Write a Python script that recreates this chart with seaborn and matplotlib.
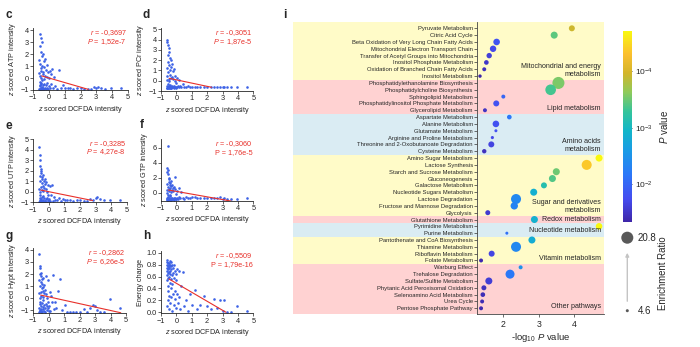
import numpy as np
import pandas as pd
import matplotlib
matplotlib.use("Agg")
import matplotlib.pyplot as plt
import seaborn as sns
from matplotlib.colors import LinearSegmentedColormap, Normalize
from matplotlib.cm import ScalarMappable
from matplotlib.patches import Rectangle
from matplotlib.transforms import blended_transform_factory

# ---------------- data: panels c-h ----------------
dcfda = [-0.63, -0.62, -0.61, -0.60, -0.60, -0.59, -0.58, -0.58, -0.57, -0.56,
         -0.56, -0.55, -0.54, -0.54, -0.53, -0.52, -0.51, -0.50, -0.50, -0.49,
         -0.48, -0.47, -0.46, -0.45, -0.44, -0.43, -0.42, -0.41, -0.40, -0.39,
         -0.38, -0.37, -0.36, -0.35, -0.34, -0.33, -0.31, -0.30, -0.28, -0.26,
         -0.24, -0.22, -0.20, -0.18, -0.16, -0.14, -0.12, -0.10, -0.08, -0.05,
         -0.03, -0.01,
         0.03, 0.07, 0.10, 0.15, 0.20, 0.26, 0.32, 0.40, 0.50, 0.62, 0.75, 0.88, 1.02,
         1.18, 1.35, 1.55, 1.78, 2.0, 2.25, 2.45, 2.65, 2.85, 3.0, 3.1, 3.3, 3.55, 3.95, 4.6]

atp = [-0.95, 0.4, 1.5, -0.6, 3.7, -0.9, 0.2, 2.7, -0.3, -0.98,
       1.2, -0.7, 0.8, 3.3, -0.5, -0.95, 0.0, 2.2, -0.85, 0.6,
       -0.4, 1.8, -0.9, -0.2, 1.0, 3.0, -0.75, 0.3, -0.95, 2.0,
       -0.6, 0.5, -0.85, 1.4, -0.1, -0.92, 0.9, -0.5, 1.6, -0.8,
       0.2, -0.95, 0.7, -0.6, 0.1, -0.85, 1.1, -0.4, 0.5, -0.9,
       0.0, -0.7,
       -0.8, 0.6, -0.5, 0.3, 0.75, -0.85, 0.1, -0.7, -0.9, 0.7, -0.85, -0.6, -0.8,
       -0.85, -0.8, -0.88, -0.85, -0.8, -0.9, -0.92, -0.95, -0.75, -0.82, -0.72, -0.85, -0.9, -0.85, -0.85]

pcr = [-0.7, 0.5, 4.0, -0.5, 1.2, -0.75, 3.8, 0.1, -0.6, 2.5,
       -0.3, 3.5, -0.7, 0.8, 1.8, -0.65, 0.2, 3.2, -0.55, 2.8,
       -0.7, 0.0, 1.5, -0.6, 2.2, -0.4, 0.6, -0.72, 1.0, -0.5,
       2.0, -0.68, 0.3, -0.6, 1.3, -0.7, 0.4, -0.5, 1.6, -0.65,
       0.9, -0.6, 0.2, -0.7, 1.1, -0.55, 0.0, -0.6, 0.5, -0.65,
       -0.2, -0.7,
       -0.6, 0.3, -0.5, -0.65, 0.1, -0.55, -0.6, -0.3, -0.62, -0.6, -0.55, -0.65, -0.6,
       -0.6, -0.62, -0.58, -0.65, -0.6, -0.62, -0.6, -0.58, -0.62, -0.6, -0.6, -0.63, -0.6, -0.6, -0.62]

utp = [-0.95, 0.3, 4.3, -0.8, 1.5, -0.98, 3.5, 0.0, -0.6, 2.5,
       -0.9, 3.0, -0.3, 1.0, 2.0, -0.95, 0.5, 1.8, -0.7, 2.2,
       -0.9, 0.2, 1.2, -0.85, 0.8, -0.5, 1.4, -0.97, 0.6, -0.4,
       1.6, -0.9, 0.1, -0.75, 1.0, -0.95, 0.4, -0.6, 1.2, -0.85,
       0.7, -0.9, 0.3, -0.7, 0.9, -0.95, 0.0, -0.6, 0.65, -0.8,
       -0.3, -0.9,
       -0.7, 0.6, -0.85, -0.3, 0.65, -0.9, -0.5, -0.8, -0.75, -0.6, -0.85, -0.7, -0.8,
       -0.75, -0.8, -0.85, -0.8, -0.82, -0.85, -0.88, -0.7, -0.8, -0.55, -0.45, -0.7, -0.8, -0.82, -0.78]

gtp = [-0.9, 0.4, 3.3, -0.7, 1.2, -0.85, 2.8, 0.0, -0.5, 3.0,
       -0.8, 2.5, -0.3, 0.8, 6.2, -0.9, 0.5, 2.0, -0.6, 1.8,
       -0.85, 0.2, 1.5, -0.8, 1.0, -0.4, 1.3, -0.9, 0.6, -0.3,
       1.6, -0.85, 0.1, -0.7, 0.9, -0.9, 0.4, -0.6, 1.1, -0.8,
       0.7, -0.85, 0.2, -0.7, 0.8, -0.9, 2.1, -0.6, 0.5, -0.75,
       -0.2, -0.85,
       -0.6, 0.3, -0.8, 0.6, -0.5, -0.7, 0.1, -0.6, -0.75, -0.55, -0.7, -0.6, -0.5,
       -0.55, -0.6, -0.6, -0.65, -0.7, -0.7, -0.68, -0.6, -0.5, -0.75, -0.7, -0.85, -0.75, -0.8, -0.7]

hypt = [-1.2, 0.4, 3.7, -0.8, 1.5, -1.1, 2.7, 0.0, -0.5, 2.5,
        -1.0, 2.0, -0.3, 1.0, 1.8, -1.15, 0.5, 2.1, -0.7, 1.3,
        -0.9, 0.2, 1.6, -1.1, 0.8, -0.4, 1.2, -1.2, 0.6, -0.2,
        1.7, -0.95, 0.1, -0.75, 0.9, -1.05, 0.4, -0.6, 1.1, -0.85,
        0.7, -1.2, 0.3, -0.5, 1.8, -1.0, 0.0, -0.65, 1.5, -0.8,
        -0.3, -1.1,
        -0.7, 0.5, -1.1, 0.2, -0.3, 1.9, -0.9, -0.3, -0.8, 0.6, 1.55, -1.0, -0.6,
        -1.2, -1.15, -1.2, -1.2, -1.15, -0.9, -1.2, -0.8, -0.6, -0.7, -1.0, -1.15, -1.2, -0.1, -0.8]

energy = [0.75, 0.62, 0.85, 0.55, 0.80, 0.10, 0.70, 0.88, 0.45, 0.78,
          0.66, 0.20, 0.83, 0.58, 0.72, 0.35, 0.80, 0.68, 0.05, 0.76,
          0.60, 0.82, 0.28, 0.74, 0.50, 0.86, 0.64, 0.15, 0.79, 0.70,
          0.40, 0.77, 0.56, 0.84, 0.25, 0.72, 0.62, 0.02, 0.80, 0.48,
          0.74, 0.30, 0.66, 0.12, 0.58, 0.80, 0.22, 0.70, 0.35, 0.64,
          0.08, 0.55,
          0.30, 0.72, 0.15, 0.70, 0.25, 0.05, 0.45, 0.68, 0.10, 0.20, 0.02, 0.30, 0.12,
          0.38, 0.05, 0.12, 0.27, 0.10, 0.05, 0.22, 0.08, 0.20, 0.02, 0.20, 0.0, 0.0, 0.10, 0.03]

panel_letters = ["c", "d", "e", "f", "g", "h"]
panel_ylabels = ["$z$ scored ATP intensity", "$z$ scored PCr intensity",
                 "$z$ scored UTP intensity", "$z$ scored GTP intensity",
                 "$z$ scored Hypt intensity", "Energy charge"]
r_values = [-0.3697, -0.3051, -0.3285, -0.3060, -0.2862, -0.5509]
p_labels = ["1,52e-7", "1,87e-5", "4,27e-8", "1,76e-5", "6,26e-5", "1,79e-16"]
fit_slope = [-0.38, -0.316, -0.30, -0.36, -0.284, -0.151]
fit_intercept = [0.0, 0.085, 0.01, 0.21, 0.10, 0.487]
fit_x_start = [-0.47, -0.46, -0.53, -0.52, -0.52, -0.48]
fit_x_end = [2.5, 2.29, 2.81, 3.55, 4.66, 3.22]
y_ticks = [[-1, 0, 1, 2, 3, 4], [-1, 0, 1, 2, 3, 4, 5], [-1, 0, 1, 2, 3, 4, 5],
           [0, 2, 4, 6], [-1, 0, 1, 2, 3, 4], [0.0, 0.2, 0.4, 0.6, 0.8, 1.0]]
x_ticks = [-1, 0, 1, 2, 3, 4, 5]

# ---------------- data: panel i ----------------
pathways = [
    "Pyruvate Metabolism", "Citric Acid Cycle",
    "Beta Oxidation of Very Long Chain Fatty Acids", "Mitochondrial Electron Transport Chain",
    "Transfer of Acetyl Groups into Mitochondria", "Inositol Phosphate Metabolism",
    "Oxidation of Branched Chain Fatty Acids", "Inositol Metabolism",
    "Phosphatidylethanolamine Biosynthesis", "Phosphatidylcholine Biosynthesis",
    "Sphingolipid Metabolism", "Phosphatidylinositol Phosphate Metabolism", "Glycerolipid Metabolism",
    "Aspartate Metabolism", "Alanine Metabolism", "Glutamate Metabolism",
    "Arginine and Proline Metabolism", "Threonine and 2-Oxobutanoate Degradation", "Cysteine Metabolism",
    "Amino Sugar Metabolism", "Lactose Synthesis", "Starch and Sucrose Metabolism", "Gluconeogenesis",
    "Galactose Metabolism", "Nucleotide Sugars Metabolism", "Lactose Degradation",
    "Fructose and Mannose Degradation", "Glycolysis",
    "Glutathione Metabolism",
    "Pyrimidine Metabolism", "Purine Metabolism",
    "Pantothenate and CoA Biosynthesis", "Thiamine Metabolism", "Riboflavin Metabolism", "Folate Metabolism",
    "Warburg Effect", "Trehalose Degradation", "Sulfate/Sulfite Metabolism",
    "Phytanic Acid Peroxisomal Oxidation", "Selenoamino Acid Metabolism", "Urea Cycle",
    "Pentose Phosphate Pathway"]
neg_log10_p = [3.94, 3.44, 1.81, 1.71, 1.60, 1.52, 1.46, 1.34,
               3.56, 3.34, 2.00, 1.80, 1.48,
               2.17, 1.79, 1.79, 1.69, 1.66, 1.46,
               4.71, 4.36, 3.50, 3.39, 3.15, 2.86, 2.36, 2.31, 1.56,
               2.88,
               4.71, 2.10,
               2.81, 2.36, 1.67, 1.37,
               2.49, 2.19, 1.59, 1.45, 1.42, 1.40, 1.37]
enrichment_ratio = [7.8, 9.4, 8.7, 8.4, 7.0, 6.1, 5.4, 4.9,
                    20.8, 17.0, 5.4, 7.8, 5.4,
                    6.1, 8.7, 4.6, 4.7, 7.8, 5.8,
                    9.4, 15.5, 9.4, 9.4, 7.8, 9.4, 15.5, 10.0, 6.5,
                    9.4,
                    8.7, 4.6,
                    9.4, 15.5, 7.8, 5.4,
                    5.4, 13.2, 9.4, 6.5, 6.1, 5.4, 5.4]
group_names = ["Mitochondrial and energy\nmetabolism", "Lipid metabolism", "Amino acids\nmetabolism",
               "Sugar and derivatives\nmetabolism", "Redox metabolism", "Nucleotide metabolism",
               "Vitamin metabolism", "Other pathways"]
group_sizes = [8, 5, 6, 9, 1, 2, 4, 7]
p_range = (1.33, 4.71)          # -log10 P limits of colour scale
ratio_range = (4.6, 20.8)       # enrichment ratio limits
cbar_ticks = [2, 3, 4]
cbar_ticklabels = ["$10^{-2}$", "$10^{-3}$", "$10^{-4}$"]

# ---------------- style ----------------
sns.set_style("ticks")
plt.rcParams["font.family"] = ["Liberation Sans", "DejaVu Sans"]
plt.rcParams["mathtext.fontset"] = "custom"
plt.rcParams["mathtext.rm"] = "Liberation Sans"
plt.rcParams["mathtext.it"] = "Liberation Sans:italic"
plt.rcParams["mathtext.bf"] = "Liberation Sans:bold"
plt.rcParams["axes.linewidth"] = 0.6

W, H = 700, 347
fig = plt.figure(figsize=(7.0, 3.47), dpi=100)


def px(l, t, r, b):
    return [l / W, 1 - b / H, (r - l) / W, (b - t) / H]


point_color = "#3d62e6"
line_color = "#e8302a"
axes_boxes = [(33.3, 28.3, 127.7, 90), (161, 28.3, 253.3, 91),
              (33.3, 138.5, 126.7, 202.3), (161, 139.3, 253.3, 200.7),
              (33.3, 248.3, 126, 312.7), (161, 251, 253.3, 313.3)]
y_limits = [(-1, 4.15), (-1, 5.1), (-1, 5.08), (-1.02, 7.1), (-1.22, 4.14), (-0.017, 1.03)]
letter_pos = [(6, 15), (142.7, 15), (6, 126), (140, 125), (6, 236), (142.7, 236)]
series = [atp, pcr, utp, gtp, hypt, energy]

for k in range(6):
    ax = fig.add_axes(px(*axes_boxes[k]))
    df = pd.DataFrame({"x": dcfda, "y": series[k]})
    sns.scatterplot(data=df, x="x", y="y", ax=ax, s=3.5, color=point_color,
                    linewidth=0, legend=False, zorder=2)
    xs = np.array([fit_x_start[k], fit_x_end[k]])
    sns.lineplot(x=xs, y=fit_intercept[k] + fit_slope[k] * xs, ax=ax,
                 color=line_color, lw=0.8, zorder=3)
    ax.set_xlim(-1, 5)
    ax.set_ylim(*y_limits[k])
    ax.set_xticks(x_ticks)
    ax.set_yticks(y_ticks[k])
    if k == 5:
        ax.set_yticklabels([f"{v:.1f}" for v in y_ticks[k]])
    ax.tick_params(labelsize=5.3, length=2, width=0.5, pad=1.2)
    sns.despine(ax=ax)
    ax.set_xlabel("$z$ scored DCFDA intensity", fontsize=5.2, labelpad=1.5)
    ax.set_ylabel(panel_ylabels[k], fontsize=5.2, labelpad=1.5)
    rtxt = f"{r_values[k]:.4f}".replace(".", ",")
    ax.text(0.99, 0.92, "$r$ = " + rtxt, transform=ax.transAxes, ha="right", va="center",
            fontsize=5.2, color=line_color)
    ptxt = ("P = " if k in (3, 5) else "$P$ = ") + p_labels[k]
    ax.text(0.99, 0.78, ptxt, transform=ax.transAxes, ha="right", va="center",
            fontsize=5.2, color=line_color)
    fig.text(letter_pos[k][0] / W, 1 - letter_pos[k][1] / H, panel_letters[k],
             fontsize=8.5, fontweight="bold", ha="left", va="center")

# ---------------- panel i ----------------
cmap = LinearSegmentedColormap.from_list("parula_like", [
    (0.00, "#3e26a8"), (0.12, "#454cf0"), (0.25, "#2b78f8"), (0.37, "#1a9ae6"),
    (0.48, "#12b6c8"), (0.58, "#35c49a"), (0.68, "#8fca5a"), (0.78, "#d2b52a"),
    (0.88, "#fbbf2f"), (1.00, "#f9f80f")])

axi = fig.add_axes(px(477, 22.3, 604, 314.3))
dfi = pd.DataFrame({"pathway": pathways, "nlp": neg_log10_p, "ratio": enrichment_ratio,
                    "row": np.arange(len(pathways))})
sns.scatterplot(data=dfi, x="nlp", y="row", hue="nlp", palette=cmap, hue_norm=p_range,
                size="ratio", sizes=(4.7, 75), size_norm=ratio_range, linewidth=0,
                legend=False, ax=axi, zorder=3)
n = len(pathways)
axi.set_ylim(n - 1 + 0.88, -0.88)
axi.set_xlim(1.255, 4.85)
axi.set_yticks(np.arange(n))
axi.set_yticklabels(pathways, fontsize=4.2)
axi.set_xticks([2, 3, 4])
axi.tick_params(axis="y", length=2.4, width=0.5, pad=0.6, color="#333333")
axi.tick_params(axis="x", length=2.4, width=0.5, pad=1.5, labelsize=6.3, color="#333333")
for s in ["top", "right"]:
    axi.spines[s].set_visible(False)
for s in ["left", "bottom"]:
    axi.spines[s].set_color("#444444")
    axi.spines[s].set_linewidth(0.6)
axi.set_xlabel("-log$_{10}$ $P$ value", fontsize=6.8, labelpad=1.5)
axi.set_ylabel("")

band_colors = ["#fffbc8", "#ffd2d2", "#daecf3", "#fffbc8", "#ffd2d2", "#daecf3", "#fffbc8", "#ffd2d2"]
trans = blended_transform_factory(axi.transAxes, axi.transData)
start = 0
left_frac = (293 - 477) / 127.0
for gi, (name, size) in enumerate(zip(group_names, group_sizes)):
    end = start + size - 1
    y0 = start - 0.5 if gi > 0 else -0.88
    y1 = end + 0.5 if gi < len(group_sizes) - 1 else n - 1 + 0.88
    axi.add_patch(Rectangle((left_frac, y0), 1 - left_frac, y1 - y0, transform=trans,
                            facecolor=band_colors[gi], edgecolor="none", clip_on=False, zorder=0))
    if size >= 3:
        axi.text(0.976, end + 0.25, name, transform=trans, ha="right", va="bottom",
                 fontsize=5.1, linespacing=1.25, zorder=4)
    else:
        axi.text(0.976, (start + end) / 2 + 0.05, name, transform=trans, ha="right", va="center",
                 fontsize=5.1, zorder=4)
    start = end + 1

fig.text(285 / W, 1 - 15 / H, "i", fontsize=8.5, fontweight="bold", ha="center", va="center")

# colour bar
cax = fig.add_axes(px(623, 31, 632, 222))
sm = ScalarMappable(norm=Normalize(*p_range), cmap=cmap)
cb = fig.colorbar(sm, cax=cax)
cb.outline.set_visible(False)
cb.set_ticks(cbar_ticks)
cb.set_ticklabels(cbar_ticklabels)
cax.tick_params(labelsize=6, length=2.5, width=0.6, direction="in", pad=2, color="#333333")
cb.set_label("$P$ value", fontsize=7, labelpad=4)

# size legend
lax = fig.add_axes(px(612, 228, 642, 318))
lax.set_xlim(0, 30)
lax.set_ylim(318, 228)
lax.axis("off")
leg_ratio = [ratio_range[1], ratio_range[0]]
sns.scatterplot(x=[15.3, 15.3], y=[237.7, 310.7], size=leg_ratio, sizes=(4.7, 75),
                size_norm=ratio_range, color="#595959", linewidth=0, legend=False, ax=lax)
lax.set_xlim(0, 30)
lax.set_ylim(318, 228)
lax.annotate("", xy=(15.3, 250), xytext=(15.3, 304),
             arrowprops=dict(arrowstyle="-|>", color="#c4c4c4", lw=1.0, mutation_scale=5))
lax.text(26, 237.7, f"{leg_ratio[0]}", fontsize=7, va="center", ha="left")
lax.text(26, 310.7, f"{leg_ratio[1]}", fontsize=7, va="center", ha="left")
lax.text(51, 273, "Enrichment Ratio", fontsize=6.9, rotation=90, va="center", ha="center")

fig.savefig("out.png", dpi=100)
